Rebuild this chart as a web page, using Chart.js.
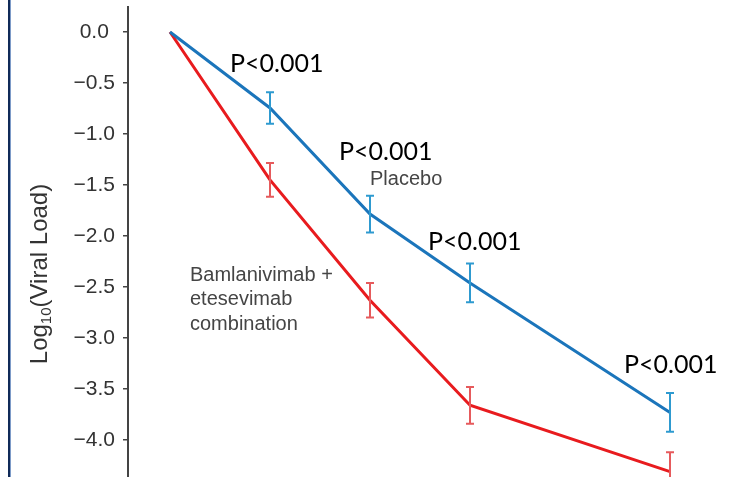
<!DOCTYPE html>
<html>
<head>
<meta charset="utf-8">
<script src="https://cdn.jsdelivr.net/npm/chart.js@4"></script>
<style>
  html, body { margin: 0; padding: 0; background: #fff; }
  #wrap { width: 733px; height: 477px; position: relative; }
</style>
</head>
<body>
<div id="wrap"><canvas id="chart"></canvas></div>
<script>
// study days and mean log10 viral load change
const days = [1, 3, 5, 7, 11];
const placebo = [0, -0.745, -1.785, -2.46, -3.73];
const placeboErr = [0, 0.155, 0.18, 0.19, 0.19];
const combo = [0, -1.45, -2.63, -3.66, -4.31];
const comboErr = [0, 0.165, 0.17, 0.18, 0.19];
const yTicks = [0, -0.5, -1.0, -1.5, -2.0, -2.5, -3.0, -3.5, -4.0];

// p-value labels (left edge day, baseline value)
const pText = ['P<0.001', 'P<0.001', 'P<0.001', 'P<0.001'];
const pDay = [2.2, 4.38, 6.16, 10.08];
const pVal = [-0.39, -1.255, -2.137, -3.343];

// series notes
const noteText = ['Placebo', 'Bamlanivimab +', 'etesevimab', 'combination'];
const noteDay = [5.0, 1.4, 1.4, 1.4];
const noteVal = [-1.5, -2.44, -2.68, -2.92];

const blue = '#1b75bb';
const blueBar = '#2e9ad0';
const red = '#e81b1e';
const redBar = '#e65a5c';

function toPoints(xs, ys) {
  return xs.map((x, i) => ({ x: x, y: ys[i] }));
}

// error bars drawn through the scales
const errorBars = {
  id: 'errorBars',
  afterDatasetsDraw(chart) {
    const ctx = chart.ctx;
    const xs = chart.scales.x, ys = chart.scales.y;
    const area = chart.chartArea;
    ctx.save();
    ctx.beginPath();
    ctx.rect(area.left, area.top, area.right - area.left, area.bottom - area.top);
    ctx.clip();
    chart.data.datasets.forEach(ds => {
      ctx.strokeStyle = ds.errColor;
      ctx.lineWidth = 2;
      ds.data.forEach((p, i) => {
        const e = ds.err[i];
        if (!e) return;
        const px = xs.getPixelForValue(p.x);
        const top = ys.getPixelForValue(p.y + e);
        const bot = ys.getPixelForValue(p.y - e);
        ctx.beginPath();
        ctx.moveTo(px, top); ctx.lineTo(px, bot);
        ctx.moveTo(px - 4, top); ctx.lineTo(px + 4, top);
        ctx.moveTo(px - 4, bot); ctx.lineTo(px + 4, bot);
        ctx.stroke();
      });
    });
    ctx.restore();
  }
};

// text labels, axis title and the slide edge
const decorations = {
  id: 'decorations',
  beforeDraw(chart) {
    const ctx = chart.ctx;
    ctx.save();
    ctx.fillStyle = '#102a58';
    ctx.fillRect(8, 0, 2, chart.height);
    ctx.fillStyle = '#7d9bc8';
    ctx.fillRect(10, 0, 1, chart.height);
    ctx.restore();
  },
  afterDraw(chart) {
    const ctx = chart.ctx;
    const xs = chart.scales.x, ys = chart.scales.y;
    ctx.save();
    ctx.textBaseline = 'alphabetic';
    ctx.textAlign = 'left';

    ctx.fillStyle = '#000';
    ctx.font = '25px Lato';
    pText.forEach((t, i) => {
      ctx.fillText(t, xs.getPixelForValue(pDay[i]), ys.getPixelForValue(pVal[i]));
    });

    ctx.fillStyle = '#454545';
    ctx.font = '20px "Liberation Sans", Arial, sans-serif';
    noteText.forEach((t, i) => {
      ctx.fillText(t, xs.getPixelForValue(noteDay[i]), ys.getPixelForValue(noteVal[i]));
    });

    // rotated y title with subscript
    const big = '24px "Liberation Sans", Arial, sans-serif';
    const small = '15px "Liberation Sans", Arial, sans-serif';
    ctx.font = big;
    const w1 = ctx.measureText('Log').width;
    const w3 = ctx.measureText('(Viral Load)').width;
    ctx.font = small;
    const w2 = ctx.measureText('10').width;
    const total = w1 + w2 + w3;
    ctx.translate(47, 274);
    ctx.rotate(-Math.PI / 2);
    ctx.fillStyle = '#333';
    let x = -total / 2;
    ctx.font = big;
    ctx.fillText('Log', x, 0);
    x += w1;
    ctx.font = small;
    ctx.fillText('10', x, 4);
    x += w2;
    ctx.font = big;
    ctx.fillText('(Viral Load)', x, 0);
    ctx.restore();
  }
};

new Chart(document.getElementById('chart'), {
  type: 'line',
  data: {
    datasets: [{
      label: 'Placebo',
      data: toPoints(days, placebo),
      err: placeboErr,
      errColor: blueBar,
      borderColor: blue,
      borderWidth: 3,
      pointRadius: 0,
      tension: 0
    }, {
      label: 'Bamlanivimab + etesevimab combination',
      data: toPoints(days, combo),
      err: comboErr,
      errColor: redBar,
      borderColor: red,
      borderWidth: 3,
      pointRadius: 0,
      tension: 0
    }]
  },
  options: {
    responsive: true,
    maintainAspectRatio: false,
    animation: false,
    layout: { padding: { top: 7, left: 0, right: 0, bottom: 0 } },
    plugins: {
      legend: { display: false },
      tooltip: { enabled: false }
    },
    scales: {
      x: {
        type: 'linear',
        display: false,
        min: 0.16,
        max: 12.26
      },
      y: {
        type: 'linear',
        min: -4.363,
        max: 0.245,
        afterBuildTicks: axis => {
          axis.ticks = yTicks.map(v => ({ value: v }));
        },
        afterFit: axis => {
          axis.width = 128;
          axis.paddingTop = 0;
          axis.paddingBottom = 0;
        },
        ticks: {
          padding: 8,
          crossAlign: 'center',
          color: '#333',
          font: { family: '"Liberation Sans", Arial, sans-serif', size: 21 },
          callback: v => (v < 0 ? '\u2212' : '') + Math.abs(v).toFixed(1)
        },
        grid: {
          drawOnChartArea: false,
          drawTicks: true,
          tickLength: 5,
          color: '#444',
          lineWidth: 1.5
        },
        border: { display: true, color: '#444', width: 2 }
      }
    }
  },
  plugins: [errorBars, decorations]
});
</script>
</body>
</html>
